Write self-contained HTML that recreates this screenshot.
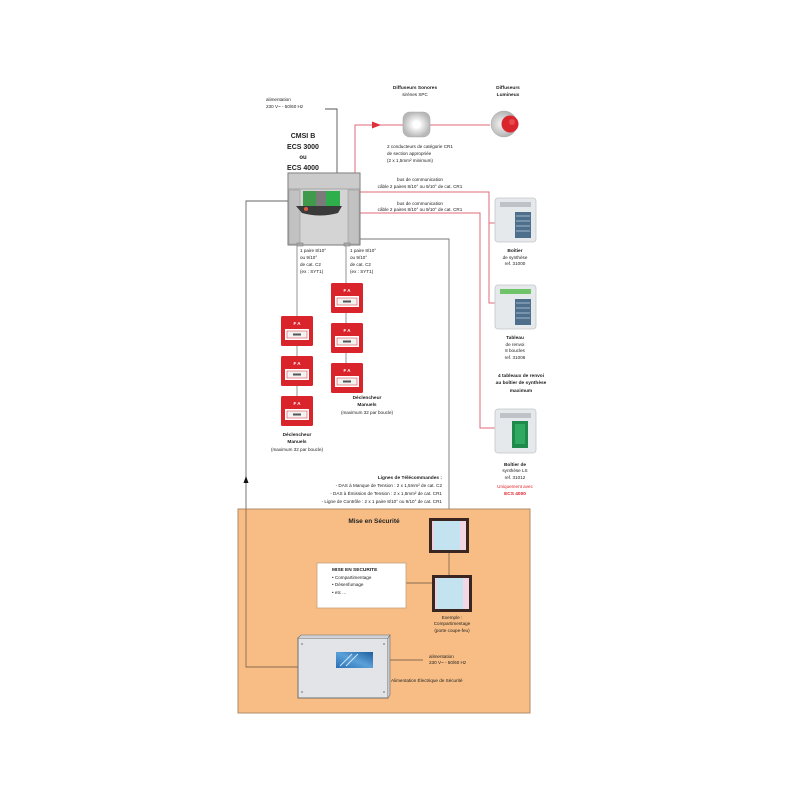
<!DOCTYPE html>
<html><head><meta charset="utf-8">
<style>
html,body{margin:0;padding:0;background:#fff;}
svg{display:block;}
text{font-family:"Liberation Sans",sans-serif;fill:#222;}
.t{font-size:4.6px;}
.b{font-size:4.8px;font-weight:bold;}
.c{text-anchor:middle;}
.e{text-anchor:end;}
</style></head>
<body>
<svg width="800" height="800" viewBox="0 0 800 800" xmlns="http://www.w3.org/2000/svg">
<defs>
<radialGradient id="snd" cx="50%" cy="50%" r="50%">
<stop offset="0" stop-color="#ffffff"/><stop offset="0.35" stop-color="#f4f4f4"/><stop offset="1" stop-color="#b8b8b8"/>
</radialGradient>
<radialGradient id="bcn" cx="40%" cy="50%" r="60%">
<stop offset="0" stop-color="#f4f4f4"/><stop offset="1" stop-color="#a8a8a8"/>
</radialGradient>
<linearGradient id="logo" x1="0" y1="1" x2="1" y2="0">
<stop offset="0" stop-color="#2a6fb5"/><stop offset="0.5" stop-color="#5aa0d8"/><stop offset="1" stop-color="#1d5e9e"/>
</linearGradient>
</defs>
<rect width="800" height="800" fill="#fff"/>

<!-- alimentation top -->
<text class="t" x="266" y="101">alimentation</text>
<text class="t" x="266" y="108">230 V~ - 50/60 Hz</text>
<path d="M325,109 H337 V173" fill="none" stroke="#555" stroke-width="0.9"/>

<!-- CMSI labels -->
<text x="303" y="138" class="c" style="font-size:7px;font-weight:bold">CMSI B</text>
<text x="303" y="149" class="c" style="font-size:7px;font-weight:bold">ECS 3000</text>
<text x="303" y="159" class="c" style="font-size:6px;font-weight:bold">ou</text>
<text x="303" y="170" class="c" style="font-size:7px;font-weight:bold">ECS 4000</text>

<!-- connections grey -->
<path d="M360,239 H449 V518" fill="none" stroke="#777" stroke-width="0.9"/>
<path d="M288,201 H246 V509" fill="none" stroke="#666" stroke-width="0.9"/>
<polygon points="246,476 243.5,483 248.5,483" fill="#111"/>

<!-- red lines -->
<path d="M355,173 V125 H490" fill="none" stroke="#e06a78" stroke-width="1"/>
<polygon points="372,121.5 381,125 372,128.5" fill="#e0303a"/>
<path d="M360,192 H489 V303 H495 M489,223 H495" fill="none" stroke="#e06a78" stroke-width="1"/>
<path d="M360,213 H480 V428 H495" fill="none" stroke="#e06a78" stroke-width="1"/>

<!-- CMSI box -->
<rect x="288" y="173" width="72" height="72" fill="#d4d4d4" stroke="#7a7a7a" stroke-width="1"/>
<rect x="289" y="174" width="70" height="15" fill="#cbcbcb"/>
<line x1="288" y1="189" x2="360" y2="189" stroke="#999" stroke-width="0.8"/>
<rect x="289" y="190" width="11" height="54" fill="#c2c2c2" stroke="#9a9a9a" stroke-width="0.6"/>
<rect x="348" y="190" width="11" height="54" fill="#c2c2c2" stroke="#9a9a9a" stroke-width="0.6"/>
<rect x="303" y="191" width="13" height="15" fill="#3f9a4c"/>
<rect x="316" y="191" width="10" height="15" fill="#7a7a7a"/>
<rect x="326" y="191" width="14" height="15" fill="#2fae4c"/>
<path d="M296,206 H342 L338,213 Q320,218 302,213 Z" fill="#3a3a3a"/>
<circle cx="306" cy="209" r="2" fill="#e05a40"/>
<rect x="297" y="243" width="6" height="3" fill="#aaa" stroke="#777" stroke-width="0.5"/>
<rect x="344" y="243" width="6" height="3" fill="#aaa" stroke="#777" stroke-width="0.5"/>

<!-- diffuseurs -->
<text x="415" y="89" class="b c">Diffuseurs Sonores</text>
<text x="415" y="96" class="t c">sirènes SPC</text>
<text x="508" y="89" class="b c">Diffuseurs</text>
<text x="508" y="96" class="b c">Lumineux</text>
<rect x="403" y="112" width="27" height="25" rx="7" fill="url(#snd)" stroke="#aaa" stroke-width="0.6"/>
<circle cx="416.5" cy="124.5" r="4" fill="#fff"/>
<circle cx="504" cy="124" r="13" fill="url(#bcn)" stroke="#aaa" stroke-width="0.5"/>
<circle cx="510" cy="124" r="8.5" fill="#d8262c"/>
<circle cx="512" cy="122" r="3" fill="#e84a4e"/>
<text class="t" x="387" y="148">2 conducteurs de catégorie CR1</text>
<text class="t" x="387" y="155">de section appropriée</text>
<text class="t" x="387" y="162">(2 x 1,5mm² minimum)</text>

<!-- bus texts -->
<text x="420" y="181" class="t c">bus de communication</text>
<text x="420" y="188" class="t c">câble 2 paires 8/10° ou 9/10° de cat. CR1</text>
<text x="420" y="205" class="t c">bus de communication</text>
<text x="420" y="211" class="t c">câble 2 paires 8/10° ou 9/10° de cat. CR1</text>

<!-- right boxes -->
<rect x="495" y="198" width="41" height="44" rx="3" fill="#e6e9ec" stroke="#c4c6c8" stroke-width="0.8"/>
<rect x="500" y="202" width="31" height="5" fill="#bfc3c7"/>
<rect x="515" y="212" width="16" height="26" fill="#4d6f8c"/>
<g stroke="#b9cfe0" stroke-width="0.8"><line x1="516" y1="216" x2="530" y2="216"/><line x1="516" y1="221" x2="530" y2="221"/><line x1="516" y1="226" x2="530" y2="226"/><line x1="516" y1="231" x2="530" y2="231"/></g>
<text x="515" y="252" class="b c">Boîtier</text>
<text x="515" y="259" class="t c">de synthèse</text>
<text x="515" y="265" class="t c">ref. 31000</text>

<rect x="495" y="285" width="41" height="44" rx="3" fill="#e6e9ec" stroke="#c4c6c8" stroke-width="0.8"/>
<rect x="500" y="289" width="31" height="5" fill="#6fc46a"/>
<rect x="515" y="299" width="16" height="26" fill="#4d6f8c"/>
<g stroke="#b9cfe0" stroke-width="0.8"><line x1="516" y1="303" x2="530" y2="303"/><line x1="516" y1="308" x2="530" y2="308"/><line x1="516" y1="313" x2="530" y2="313"/><line x1="516" y1="318" x2="530" y2="318"/></g>
<text x="515" y="339" class="b c">Tableau</text>
<text x="515" y="346" class="t c">de renvoi</text>
<text x="515" y="352" class="t c">8 boucles</text>
<text x="515" y="359" class="t c">ref. 31006</text>

<text x="521" y="377" class="b c">4 tableaux de renvoi</text>
<text x="521" y="384" class="b c">au boîtier de synthèse</text>
<text x="521" y="392" class="b c">maximum</text>

<rect x="495" y="409" width="41" height="44" rx="3" fill="#e6e9ec" stroke="#c4c6c8" stroke-width="0.8"/>
<rect x="500" y="413" width="31" height="5" fill="#bfc3c7"/>
<rect x="512" y="421" width="16" height="27" fill="#1e8a4c"/>
<rect x="515" y="424" width="10" height="20" fill="#2fa862"/>
<text x="515" y="466" class="b c">Boîtier de</text>
<text x="515" y="472" class="t c">synthèse LS</text>
<text x="515" y="479" class="t c">ref. 31012</text>
<text x="515" y="488" class="t c" style="fill:#e0202a">Uniquement avec</text>
<text x="515" y="495" class="b c" style="fill:#e0202a">ECS 4000</text>

<!-- manual call point lines -->
<path d="M297,246 V397" fill="none" stroke="#888" stroke-width="0.9"/>
<path d="M346,246 V363" fill="none" stroke="#888" stroke-width="0.9"/>
<text class="t" x="300" y="252">1 paire 8/10°</text>
<text class="t" x="300" y="259">ou 9/10°</text>
<text class="t" x="300" y="266">de cat. C2</text>
<text class="t" x="300" y="273">(ex : SYT1)</text>
<text class="t" x="350" y="252">1 paire 8/10°</text>
<text class="t" x="350" y="259">ou 9/10°</text>
<text class="t" x="350" y="266">de cat. C2</text>
<text class="t" x="350" y="273">(ex : SYT1)</text>

<g id="dm">
<rect x="281" y="316" width="32" height="30" rx="1.5" fill="#d9242c"/>
<rect x="285" y="329" width="24" height="11" fill="#fff"/>
<rect x="287" y="331" width="20" height="7" fill="#f2f2f2" stroke="#d9242c" stroke-width="0.5"/>
<rect x="293" y="333.5" width="8" height="2" fill="#555"/>
<text x="297" y="325" class="c" style="font-size:4.5px;font-weight:bold;fill:#fff">F A</text>
</g>
<use href="#dm" transform="translate(0,40)"/>
<use href="#dm" transform="translate(0,80)"/>
<use href="#dm" transform="translate(50,-33)"/>
<use href="#dm" transform="translate(50,7)"/>
<use href="#dm" transform="translate(50,47)"/>

<text x="367" y="399" class="b c">Déclencheur</text>
<text x="367" y="406" class="b c">Manuels</text>
<text x="367" y="414" class="t c">(maximum 32 par boucle)</text>
<text x="297" y="436" class="b c">Déclencheur</text>
<text x="297" y="443" class="b c">Manuels</text>
<text x="297" y="451" class="t c">(maximum 32 par boucle)</text>

<!-- telecommandes -->
<text x="442" y="479" class="b e">Lignes de Télécommandes :</text>
<text x="442" y="487" class="t e">- DAS à Manque de Tension : 2 x 1,5mm² de cat. C2</text>
<text x="442" y="495" class="t e">- DAS à Émission de Tension : 2 x 1,5mm² de cat. CR1</text>
<text x="442" y="503" class="t e">- Ligne de Contrôle : 2 x 1 paire 8/10° ou 9/10° de cat. CR1</text>

<!-- orange area -->
<rect x="238" y="509" width="292" height="204" fill="#f7bd84" stroke="#b08b68" stroke-width="1"/>
<path d="M246,509 V667 H298" fill="none" stroke="#8a6a50" stroke-width="0.9"/>
<path d="M449,553 V575" fill="none" stroke="#8a6a50" stroke-width="0.9"/>
<path d="M406,583 H432" fill="none" stroke="#8a6a50" stroke-width="0.9"/>
<text x="374" y="523" class="c" style="font-size:6.5px;font-weight:bold">Mise en Sécurité</text>

<!-- windows -->
<rect x="429" y="518" width="40" height="35" fill="#3a2620"/>
<rect x="432" y="521" width="34" height="29" fill="#c4e3f0"/>
<rect x="432" y="521" width="2" height="29" fill="#f0cfe0"/>
<rect x="460" y="521" width="6" height="29" fill="#f3d6e4"/>
<rect x="432" y="575" width="40" height="37" fill="#3a2620"/>
<rect x="435" y="578" width="34" height="31" fill="#c4e3f0"/>
<rect x="435" y="578" width="2" height="31" fill="#f0cfe0"/>
<rect x="463" y="578" width="6" height="31" fill="#f3d6e4"/>
<text x="452" y="619" class="t c">Exemple :</text>
<text x="452" y="625" class="t c">Compartimentage</text>
<text x="452" y="632" class="t c">(porte coupe-feu)</text>

<!-- white box -->
<rect x="317" y="563" width="89" height="45" fill="#fff" stroke="#c9a07a" stroke-width="0.8"/>
<text x="332" y="571" class="b">MISE EN SECURITE</text>
<text x="332" y="579" class="t">• Compartimentage</text>
<text x="332" y="586" class="t">• Désenfumage</text>
<text x="332" y="594" class="t">• etc ...</text>

<!-- power supply -->
<rect x="298" y="638" width="90" height="60" fill="#e2e4e7" stroke="#6f6f6f" stroke-width="1"/>
<path d="M298,638 L301,635 H390 L388,638" fill="#cfd1d4" stroke="#6f6f6f" stroke-width="0.6"/>
<path d="M388,638 L390,635 V695 L388,698" fill="#c6c8cb" stroke="#6f6f6f" stroke-width="0.6"/>
<circle cx="302" cy="644" r="1" fill="#999"/><circle cx="302" cy="692" r="1" fill="#999"/>
<circle cx="384" cy="644" r="1" fill="#999"/><circle cx="384" cy="692" r="1" fill="#999"/>
<rect x="336" y="652" width="37" height="16" fill="url(#logo)"/>
<path d="M340,666 L352,654 M346,666 L358,654" stroke="#cfe3f5" stroke-width="1"/>
<path d="M390,660 H423" fill="none" stroke="#8a6a50" stroke-width="0.9"/>
<text class="t" x="429" y="658">alimentation</text>
<text class="t" x="429" y="664">230 V~ - 50/60 Hz</text>
<text class="t" x="391" y="682">Alimentation Électrique de Sécurité</text>
</svg>
</body></html>
